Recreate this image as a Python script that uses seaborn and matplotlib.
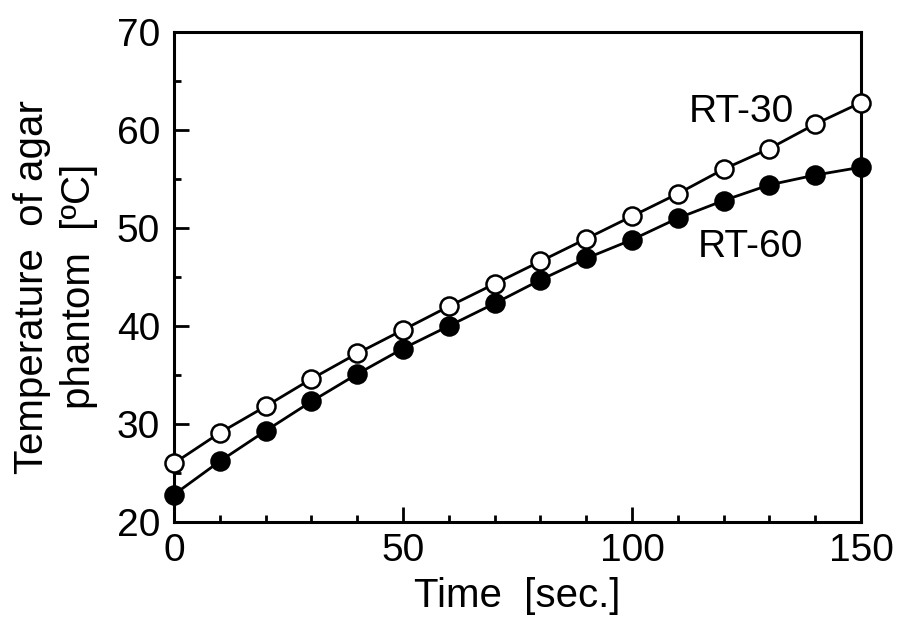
import numpy             as np
import pandas            as pd
import seaborn           as sns
import matplotlib.pyplot as plt

from matplotlib.ticker   import MultipleLocator


time_sec = [0, 10, 20, 30, 40, 50, 60, 70, 80, 90, 100, 110, 120, 130, 140, 150]

rt30 = [26.0, 29.1, 31.8, 34.6, 37.2, 39.6, 42.0, 44.3,
        46.6, 48.9, 51.2, 53.5, 56.0, 58.1, 60.6, 62.8]
rt60 = [22.8, 26.2, 29.3, 32.3, 35.1, 37.7, 40.0, 42.3,
        44.7, 46.9, 48.8, 51.0, 52.8, 54.4, 55.4, 56.2]

series_names = ["RT-30", "RT-60"]

df = pd.DataFrame({
    "time" : time_sec * 2,
    "temp" : rt30 + rt60,
    "cond" : [series_names[0]] * len(time_sec) + [series_names[1]] * len(time_sec),
})

sns.set_theme(style="ticks")
plt.rcParams["font.family"]     = ["Liberation Sans", "DejaVu Sans"]
plt.rcParams["text.color"]      = "black"
plt.rcParams["axes.labelcolor"] = "black"

fig = plt.figure(figsize=(8.99, 6.25), dpi=100)
ax  = fig.add_axes([0.1936, 0.1648, 0.7641, 0.7840])

face = {"RT-30": "white", "RT-60": "black"}

for name in series_names:
    sub = df[df["cond"] == name]
    sns.lineplot(
        data            =sub,
        x               ="time",
        y               ="temp",
        ax              =ax,
        color           ="black",
        linewidth       =2.0,
        marker          ="o",
        markersize      =13,
        markerfacecolor =face[name],
        markeredgecolor ="black",
        markeredgewidth =1.8,
        clip_on         =False,
        zorder          =3,
    )

ax.set_xlim(0, 150)
ax.set_ylim(20, 70)
ax.xaxis.set_major_locator(MultipleLocator(50))
ax.xaxis.set_minor_locator(MultipleLocator(10))
ax.yaxis.set_major_locator(MultipleLocator(10))
ax.yaxis.set_minor_locator(MultipleLocator(5))

ax.tick_params(which="both", direction="in", width=2, colors="black",
               labelsize=28, top=False, right=False)
ax.tick_params(which="major", length=11)
ax.tick_params(which="minor", length=5)
ax.tick_params(axis="x", which="major", pad=8)
ax.tick_params(axis="y", which="major", pad=10)

for s in ax.spines.values():
    s.set_linewidth(2.2)
    s.set_color("black")
    s.set_visible(True)

ax.set_xlabel("Time  [sec.]", fontsize=29, labelpad=6)
ax.set_ylabel("Temperature  of agar\nphantom  [ºC]", fontsize=29,
              linespacing=1.3)
ax.yaxis.set_label_coords(-0.11, 0.48)

ax.text(112.3, 61.8, "RT-30", fontsize=28, va="center", ha="left")
ax.text(114.4, 48.1, "RT-60", fontsize=28, va="center", ha="left")

fig.savefig("out.png", dpi=100)
